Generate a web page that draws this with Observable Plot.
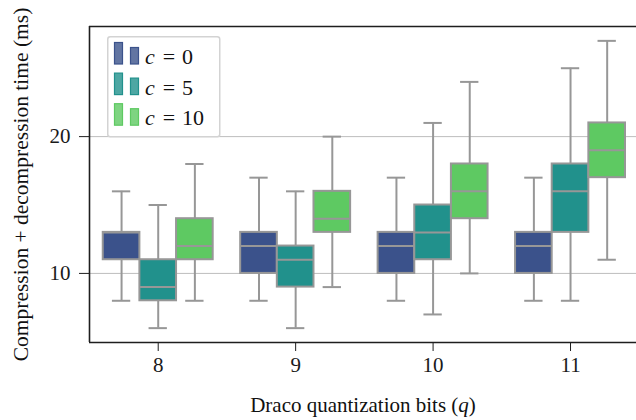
<!DOCTYPE html>
<html>
<head>
<meta charset="utf-8">
<script src="https://cdn.jsdelivr.net/npm/d3@7"></script>
<script src="https://cdn.jsdelivr.net/npm/@observablehq/plot@0.6"></script>
<style>
  html, body { margin: 0; padding: 0; background: #fff; }
  #chart { position: relative; width: 636px; height: 420px; overflow: hidden;
           font-family: "Liberation Serif", "Times New Roman", serif; }
  #legend { position: absolute; left: 107px; top: 36px; }
</style>
</head>
<body>
<div id="chart"></div>
<script>
// Quantization bits (x categories) and compression levels (hue)
const qBits = [8, 9, 10, 11];
const cLevels = [0, 5, 10];
const palette = ["#3b528b", "#21918c", "#5ec962"];

// Box statistics, one row per c level, one value per q
const whiskLo = [[8, 8, 8, 8], [6, 6, 7, 8], [8, 9, 10, 11]];
const q1      = [[11, 10, 10, 10], [8, 9, 11, 13], [11, 13, 14, 17]];
const median  = [[13, 12, 12, 12], [9, 11, 13, 16], [12, 14, 16, 19]];
const q3      = [[13, 13, 13, 13], [11, 12, 15, 18], [14, 16, 18, 21]];
const whiskHi = [[16, 17, 17, 17], [15, 16, 21, 25], [18, 20, 24, 27]];

const yTicks = [10, 20];
const xTitle = "Draco quantization bits (q)";
const yTitle = "Compression + decompression time (ms)";

// dodge the three hues inside each q group (group width 0.8)
const boxW = 0.8 / cLevels.length;
const rows = [];
cLevels.forEach((c, j) => {
  qBits.forEach((q, i) => {
    rows.push({
      c, q,
      pos: i + (j - (cLevels.length - 1) / 2) * boxW,
      lo: whiskLo[j][i], q1: q1[j][i], med: median[j][i], q3: q3[j][i], hi: whiskHi[j][i]
    });
  });
});

const edge = "#979797";
const spine = "#1e1e1e";
const yDomain = [4.95, 28.05];
const xDomain = [-0.5, 3.48];

const left = d => d.pos - boxW / 2, right = d => d.pos + boxW / 2;
const capL = d => d.pos - boxW / 4, capR = d => d.pos + boxW / 4;

const chart = Plot.plot({
  width: 636,
  height: 420,
  marginTop: 26,
  marginBottom: 78,
  marginLeft: 89,
  marginRight: 0,
  style: {fontFamily: '"Liberation Serif", "Times New Roman", serif', fontSize: "21px",
          color: "#1a1a1a", background: "#fff", overflow: "visible"},
  x: {domain: xDomain},
  y: {domain: yDomain},
  color: {type: "ordinal", domain: cLevels, range: palette},
  marks: [
    Plot.gridY(yTicks, {stroke: "#bdbdbd", strokeOpacity: 1, strokeWidth: 1}),
    // whiskers
    Plot.ruleX(rows, {x: "pos", y1: "lo", y2: "q1", stroke: edge, strokeWidth: 2}),
    Plot.ruleX(rows, {x: "pos", y1: "q3", y2: "hi", stroke: edge, strokeWidth: 2}),
    Plot.ruleY(rows, {y: "lo", x1: capL, x2: capR, stroke: edge, strokeWidth: 2}),
    Plot.ruleY(rows, {y: "hi", x1: capL, x2: capR, stroke: edge, strokeWidth: 2}),
    // boxes and medians
    Plot.rect(rows, {x1: left, x2: right, y1: "q1", y2: "q3", fill: "c", stroke: edge, strokeWidth: 2}),
    Plot.ruleY(rows, {y: "med", x1: left, x2: right, stroke: edge, strokeWidth: 2}),
    // axes
    Plot.axisY(yTicks, {anchor: "left", tickSize: 10, tickPadding: 9, label: null, stroke: spine}),
    Plot.axisX([0, 1, 2, 3], {anchor: "bottom", tickSize: 9, tickPadding: 6, label: null,
                              tickFormat: i => qBits[i], stroke: spine}),
    // spines
    Plot.ruleY([yDomain[1]], {stroke: spine, strokeWidth: 1.6}),
    Plot.ruleY([yDomain[0]], {stroke: spine, strokeWidth: 1.6}),
    Plot.ruleX([xDomain[0]], {stroke: spine, strokeWidth: 1.6}),
    // axis titles
    Plot.text([yTitle], {frameAnchor: "left", textAnchor: "middle", lineAnchor: "middle",
                         dx: -68, rotate: -90, fontSize: 21.5, fill: "#111"}),
    Plot.text([xTitle], {frameAnchor: "bottom", lineAnchor: "middle", dy: 63, fill: "#111"})
  ]
});

// italic q in the x title
d3.select(chart).selectAll("text").each(function () {
  if (this.textContent === xTitle) {
    const t = d3.select(this).text(null);
    t.append("tspan").text("Draco quantization bits (");
    t.append("tspan").attr("font-style", "italic").text("q");
    t.append("tspan").text(")");
  }
});

const host = document.getElementById("chart");
host.appendChild(chart);

// legend: two swatches plus "c = value" per level
const lg = d3.select(host).append("svg")
  .attr("id", "legend").attr("width", 114).attr("height", 102);
lg.append("rect").attr("x", 0.75).attr("y", 0.75).attr("width", 112).attr("height", 100)
  .attr("rx", 2.5).attr("fill", "#fff").attr("fill-opacity", 0.85)
  .attr("stroke", "#d3d3d3").attr("stroke-width", 1.5);
const rowH = 30.6;
cLevels.forEach((c, j) => {
  const base = 28 + j * rowH;
  lg.append("rect").attr("x", 7.5).attr("y", base - 21.5).attr("width", 8).attr("height", 21.5)
    .attr("fill", palette[j]).attr("fill-opacity", 0.8).attr("stroke", palette[j]).attr("stroke-width", 1.2);
  lg.append("rect").attr("x", 23.5).attr("y", base - 16.5).attr("width", 8).attr("height", 16.5)
    .attr("fill", palette[j]).attr("fill-opacity", 0.8).attr("stroke", palette[j]).attr("stroke-width", 1.2);
  const t = lg.append("text").attr("y", base)
    .attr("font-family", '"Liberation Serif", "Times New Roman", serif')
    .attr("font-size", 22).attr("fill", "#111");
  t.append("tspan").attr("x", 38).attr("font-style", "italic").text("c");
  t.append("tspan").attr("x", 62).attr("text-anchor", "middle").text("=");
  t.append("tspan").attr("x", 75).text(String(c));
});
</script>
</body>
</html>
